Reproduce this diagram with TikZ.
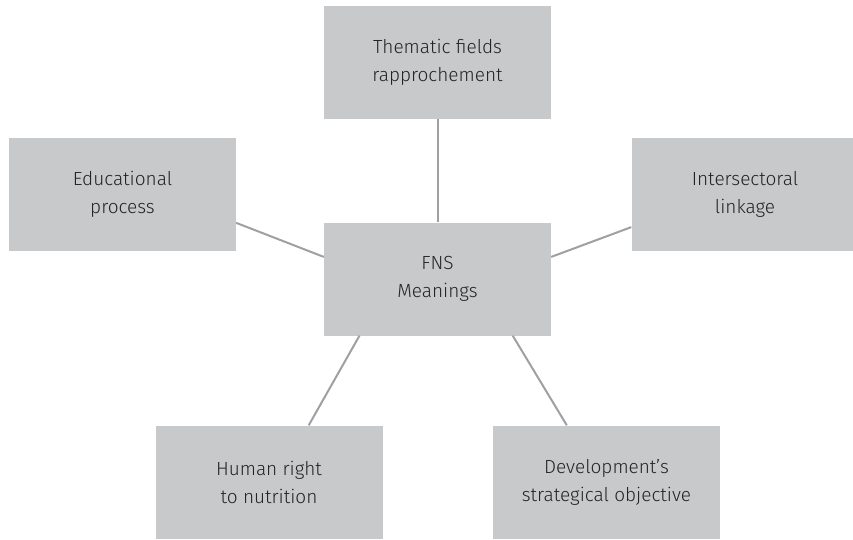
\documentclass[tikz,border=0pt]{standalone}
\usepackage{fontspec}
\setmainfont{Fira Sans Light}
\definecolor{boxgray}{RGB}{200,201,203}
\definecolor{linegray}{RGB}{160,160,162}
\definecolor{textgray}{RGB}{35,35,35}

\begin{document}
\begin{tikzpicture}[x=1pt, y=-1pt,
	box/.style={fill=boxgray, minimum width=227pt, minimum height=113pt, inner sep=0pt,
		align=center, text=textgray, font=\fontsize{19}{28}\selectfont},
	link/.style={draw=linegray, line width=2pt}]
	\useasboundingbox (0,0) rectangle (853,539);
	% centre
	\node[box] (fns) at (437.5,279) {FNS\\Meanings};
	% outer boxes
	\node[box] (them) at (437.5,62.5) {Thematic fields\\rapprochement};
	\node[box] (edu) at (122.5,194.5) {Educational\\process};
	\node[box] (inter) at (745,194.5) {Intersectoral\\linkage};
	\node[box] (hum) at (269,482) {Human right\\to nutrition};
	\node[box] (dev) at (606.5,482) {Development’s\\strategical objective};
	% links
	\draw [link] (them.south) to (fns.north);
	\draw [link] (edu.-14.6) to (fns.169);
	\draw [link] (inter.196.3) to (fns.11);
	\draw [link] (hum.55.8) to (fns.216.3);
	\draw [link] (dev.125.9) to (fns.-37);
\end{tikzpicture}
\end{document}
